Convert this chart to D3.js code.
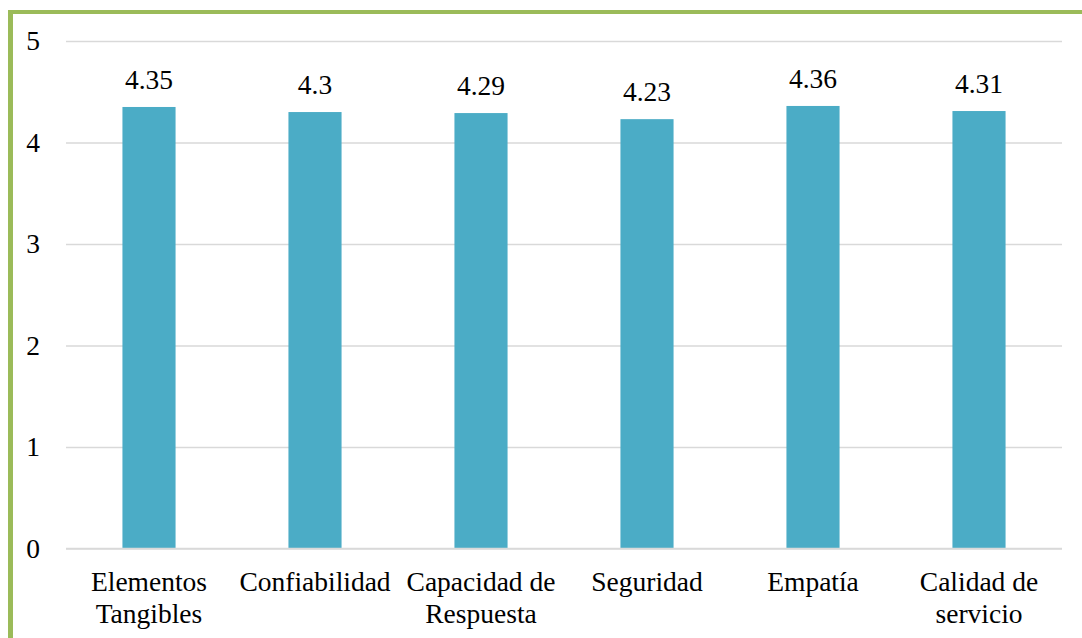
<!DOCTYPE html>
<html>
<head>
<meta charset="utf-8">
<script src="https://d3js.org/d3.v7.min.js"></script>
<style>
  html, body { margin: 0; padding: 0; background: #fff; }
  svg { display: block; }
  svg text { font-family: "Times New Roman", "Liberation Serif", Tinos, "DejaVu Serif", serif !important; fill: #000; }
</style>
</head>
<body>
<script>
const categories = [["Elementos", "Tangibles"], ["Confiabilidad"], ["Capacidad de", "Respuesta"], ["Seguridad"], ["Empatía"], ["Calidad de", "servicio"]];
const values = [4.35, 4.3, 4.29, 4.23, 4.36, 4.31];
const valueLabels = ["4.35", "4.3", "4.29", "4.23", "4.36", "4.31"];
const yTicks = [0, 1, 2, 3, 4, 5];

const W = 1082, H = 638;
const svg = d3.select("body").append("svg").attr("width", W).attr("height", H);

// border (green, top and left visible)
svg.append("line").attr("x1", 8).attr("x2", W + 10).attr("y1", 12).attr("y2", 12)
  .attr("stroke", "#9BBB59").attr("stroke-width", 4);
svg.append("line").attr("x1", 10.5).attr("x2", 10.5).attr("y1", 10).attr("y2", H + 10)
  .attr("stroke", "#9BBB59").attr("stroke-width", 5);

const x0 = 66, x1 = 1062, yTop = 41, yBot = 548.5;
const idx = categories.map((d, i) => i);
const x = d3.scaleBand().domain(idx).range([x0, x1]).paddingInner(0.68).paddingOuter(0.34);
const y = d3.scaleLinear().domain([0, 5]).range([yBot, yTop]);

const fs = 27.5;

// gridlines
const yAxis = d3.axisLeft(y).tickValues(yTicks).tickSize(-(x1 - x0)).tickPadding(26).tickFormat(d3.format("d"));
const gy = svg.append("g").attr("transform", `translate(${x0},0)`).call(yAxis);
gy.attr("font-family", null).attr("font-size", null);
gy.select(".domain").remove();
gy.selectAll(".tick line").attr("stroke", "#D9D9D9").attr("stroke-width", 1.5);
gy.selectAll(".tick text").attr("font-size", fs).attr("fill", "#000").attr("dy", "0.32em");

// bars
svg.append("g").selectAll("rect").data(values).join("rect")
  .attr("x", (d, i) => x(i))
  .attr("width", x.bandwidth())
  .attr("y", d => y(d))
  .attr("height", d => y(0) - y(d))
  .attr("fill", "#4BACC6");

// value labels
svg.append("g").selectAll("text").data(values).join("text")
  .attr("x", (d, i) => x(i) + x.bandwidth() / 2)
  .attr("y", d => y(d) - 18)
  .attr("text-anchor", "middle")
  .attr("font-size", fs)
  .text((d, i) => valueLabels[i]);

// x axis baseline + category labels
const xAxis = d3.axisBottom(x).tickSize(0).tickFormat(() => "");
const gx = svg.append("g").attr("transform", `translate(0,${yBot})`).call(xAxis);
gx.attr("font-family", null).attr("font-size", null);
gx.select(".domain").attr("stroke", "#D9D9D9").attr("stroke-width", 1.5).attr("d", `M${x0},0H${x1}`);
gx.selectAll(".tick").each(function(i) {
  const t = d3.select(this).append("text")
    .attr("text-anchor", "middle")
    .attr("font-size", fs)
    .attr("fill", "#000");
  categories[i].forEach((line, k) => {
    t.append("tspan").attr("x", 0).attr("y", 42.5 + k * 31.5).text(line);
  });
});
</script>
</body>
</html>
